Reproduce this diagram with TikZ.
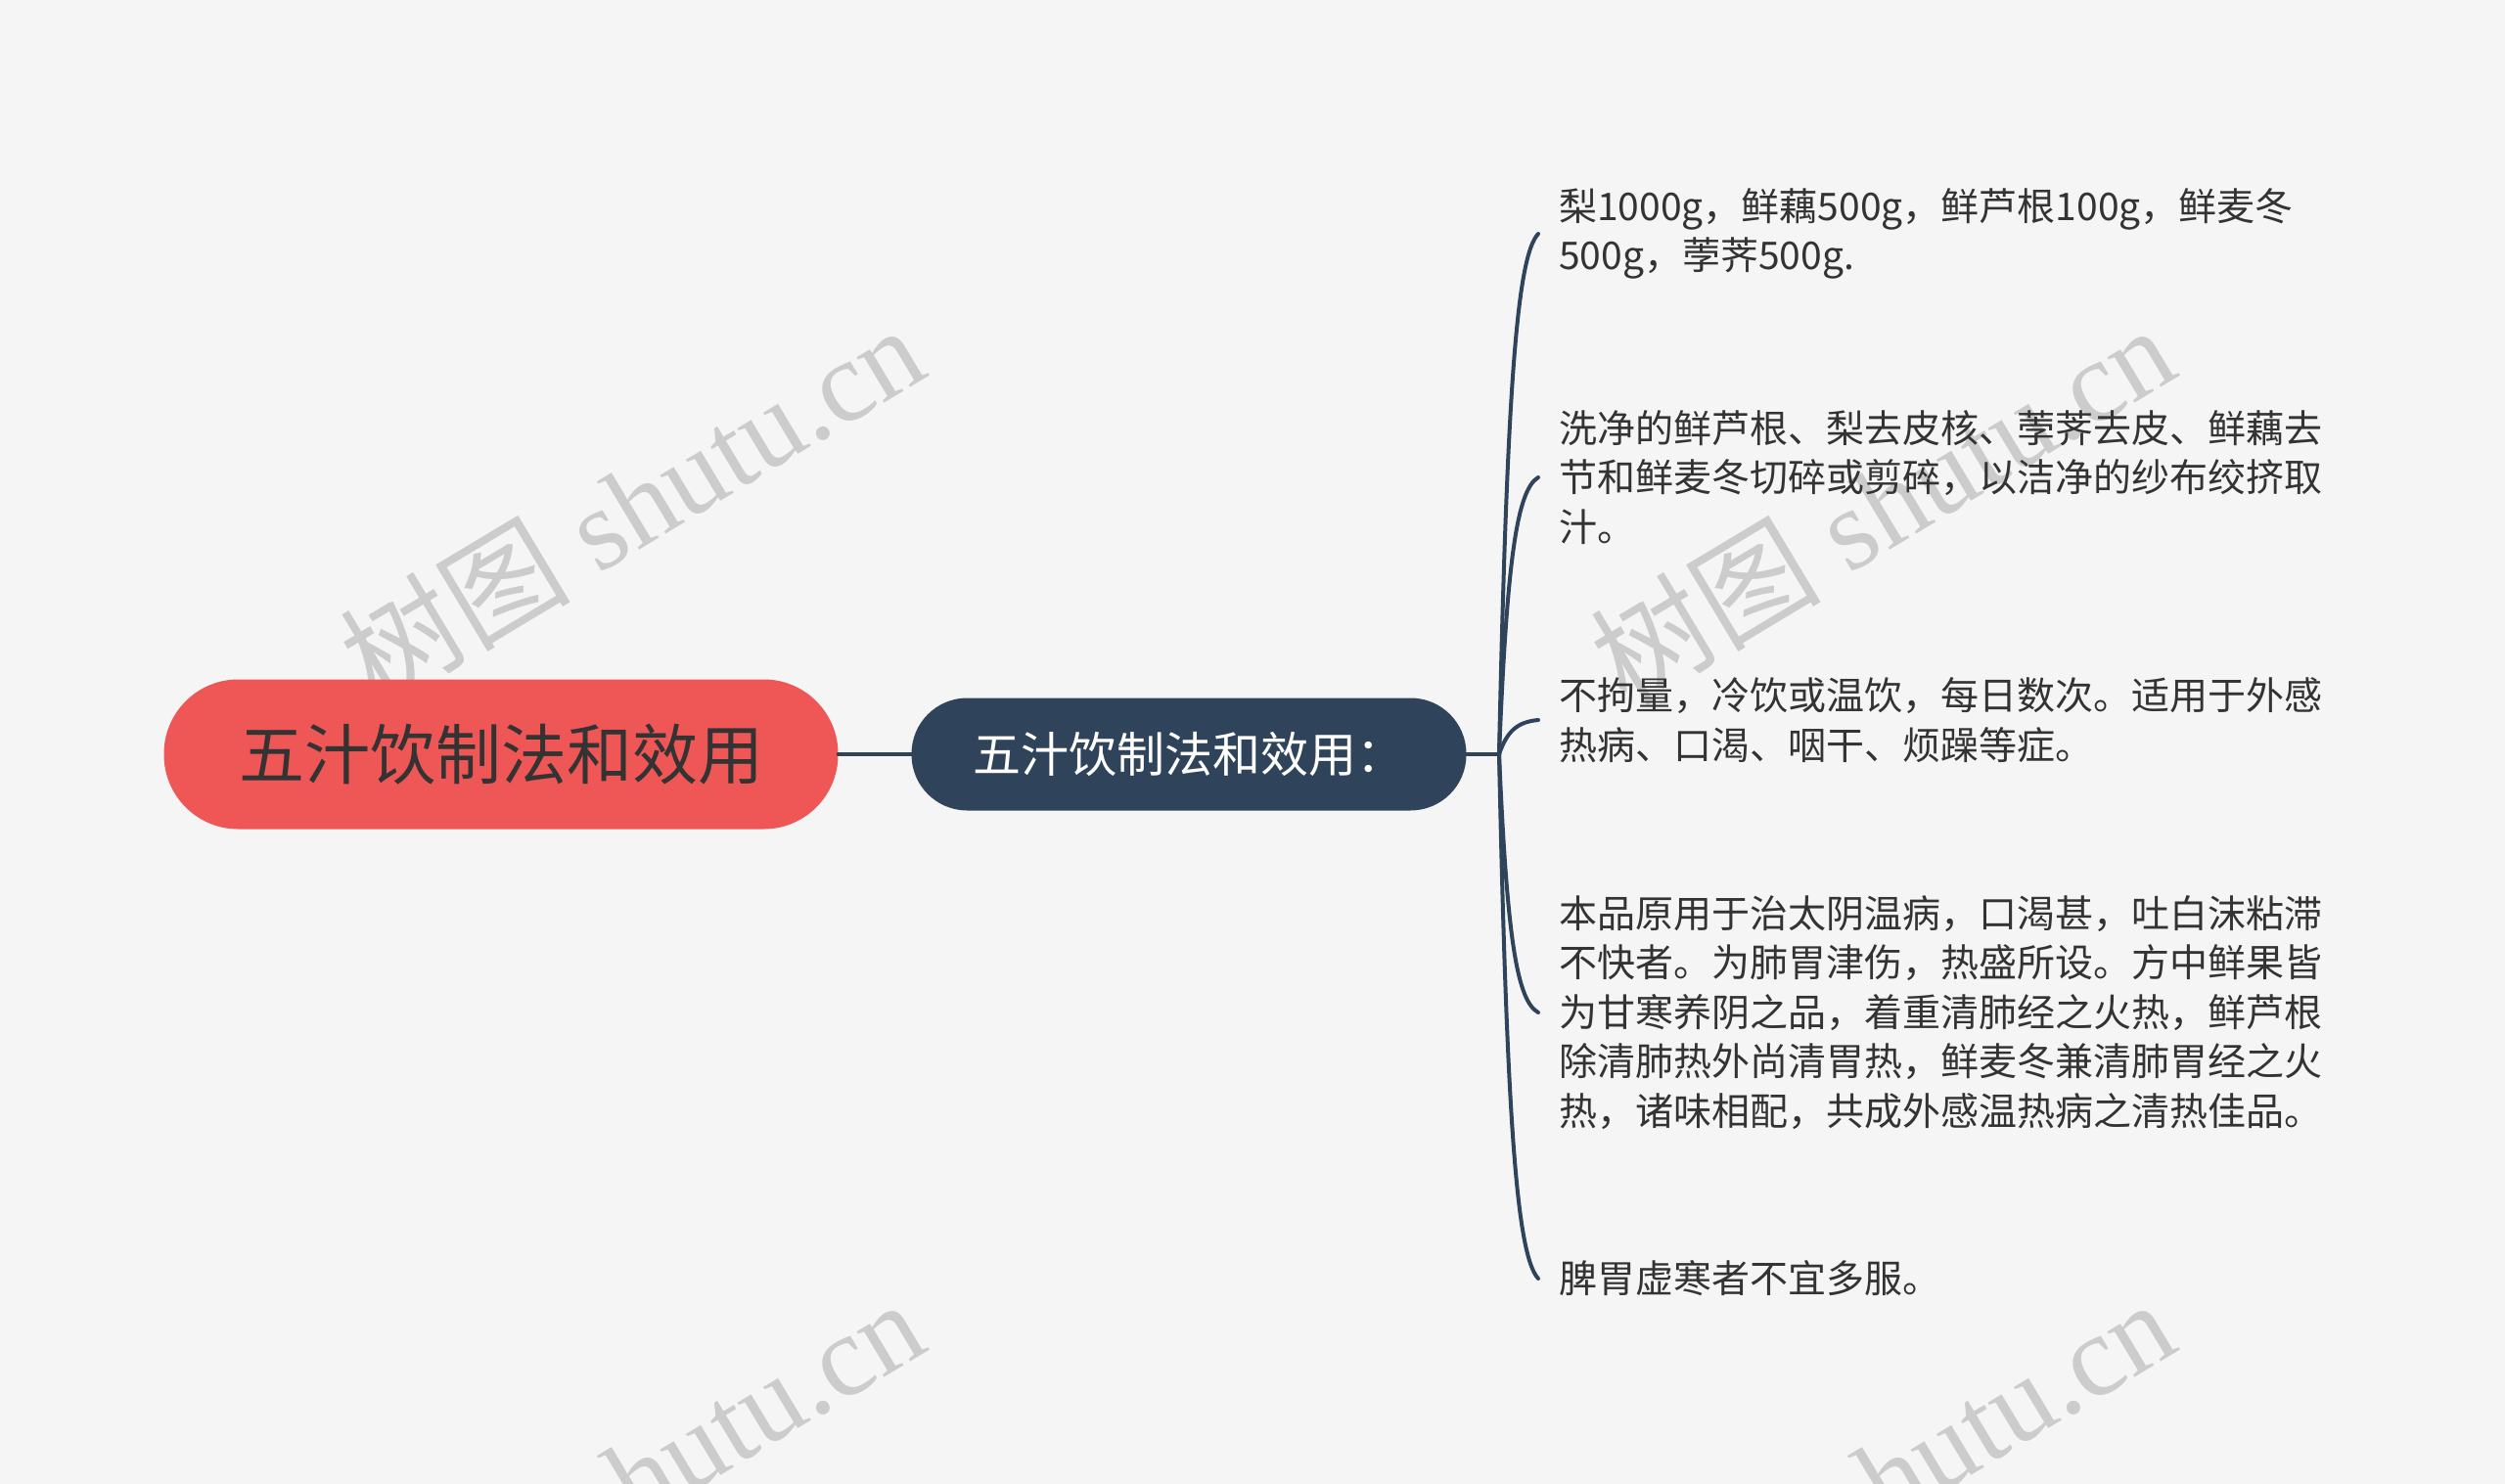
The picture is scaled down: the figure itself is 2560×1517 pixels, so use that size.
\documentclass[tikz,border=0pt]{standalone}
\usepackage{fontspec}
\newfontfamily\cjk{Noto Sans CJK SC}
\newfontfamily\wmfont{Liberation Serif}
\definecolor{bgc}{HTML}{F5F5F5}
\definecolor{rootred}{HTML}{EF5656}
\definecolor{navy}{HTML}{2F445A}
\definecolor{txt}{HTML}{333333}
\definecolor{wm}{HTML}{CCCCCC}
\begin{document}
\begin{tikzpicture}[x=1pt,y=-1pt,
  rootbox/.style={rectangle, rounded corners=76pt, fill=rootred, minimum width=689pt, minimum height=153pt, inner sep=0pt, font=\cjk\fontsize{67}{72}\selectfont, text=txt},
  subbox/.style={rectangle, rounded corners=57pt, fill=navy, minimum width=567pt, minimum height=115pt, inner sep=0pt, font=\cjk\fontsize{49}{54}\selectfont, text=white},
  leaf/.style={anchor=west, align=left, inner xsep=21pt, inner ysep=0pt, font=\cjk\fontsize{39}{50.6}\selectfont, text=txt},
  link/.style={draw=navy, line width=4pt, line cap=round, line join=round},
  wmark/.style={text=wm, rotate=31, inner sep=0pt, font=\wmfont\fontsize{118}{126}\selectfont}]
\fill[bgc] (0,0) rectangle (2560,1517);
\useasboundingbox (0,0) rectangle (2560,1517);
\begin{scope}
\clip (0,0) rectangle (2560,1517);
\node[wmark] (wm1) at (645,515) {{\cjk 树图} shutu.cn};
\node[wmark] (wm2) at (1923,515) {{\cjk 树图} shutu.cn};
\node[wmark] (wm3) at (645,1511) {{\cjk 树图} shutu.cn};
\node[wmark] (wm4) at (1923,1511) {{\cjk 树图} shutu.cn};
\end{scope}

\node[rootbox] (root) at (512,771) {五汁饮制法和效用};
\node[subbox] (sub) at (1215,771) {五汁饮制法和效用：};

\node[leaf] (l1) at (1572,239) {梨1000g，鲜藕500g，鲜芦根100g，鲜麦冬\\500g，荸荠500g.};
\node[leaf] (l2) at (1572,488) {洗净的鲜芦根、梨去皮核、荸荠去皮、鲜藕去\\节和鲜麦冬切碎或剪碎，以洁净的纱布绞挤取\\汁。};
\node[leaf] (l3) at (1572,736) {不拘量，冷饮或温饮，每日数次。适用于外感\\热病、口渴、咽干、烦躁等症。};
\node[leaf] (l4) at (1572,1035) {本品原用于治太阴温病，口渴甚，吐白沫粘滞\\不快者。为肺胃津伤，热盛所设。方中鲜果皆\\为甘寒养阴之品，着重清肺经之火热，鲜芦根\\除清肺热外尚清胃热，鲜麦冬兼清肺胃经之火\\热，诸味相配，共成外感温热病之清热佳品。};
\node[leaf] (l5) at (1572,1307) {脾胃虚寒者不宜多服。};

\coordinate (J) at (1532,771);
\draw[link] (root.east) -- (sub.west);
\draw[link] (sub.east) -- (J);
\draw[link] (J) .. controls (1540,400) and (1550,262) .. (l1.west);
\draw[link] (J) .. controls (1540,574) and (1550,501) .. (l2.west);
\draw[link] (J) .. controls (1540,748) and (1550,738) .. (l3.west);
\draw[link] (J) .. controls (1540,957) and (1550,1023) .. (l4.west);
\draw[link] (J) .. controls (1540,1147) and (1550,1283) .. (l5.west);
\end{tikzpicture}
\end{document}
